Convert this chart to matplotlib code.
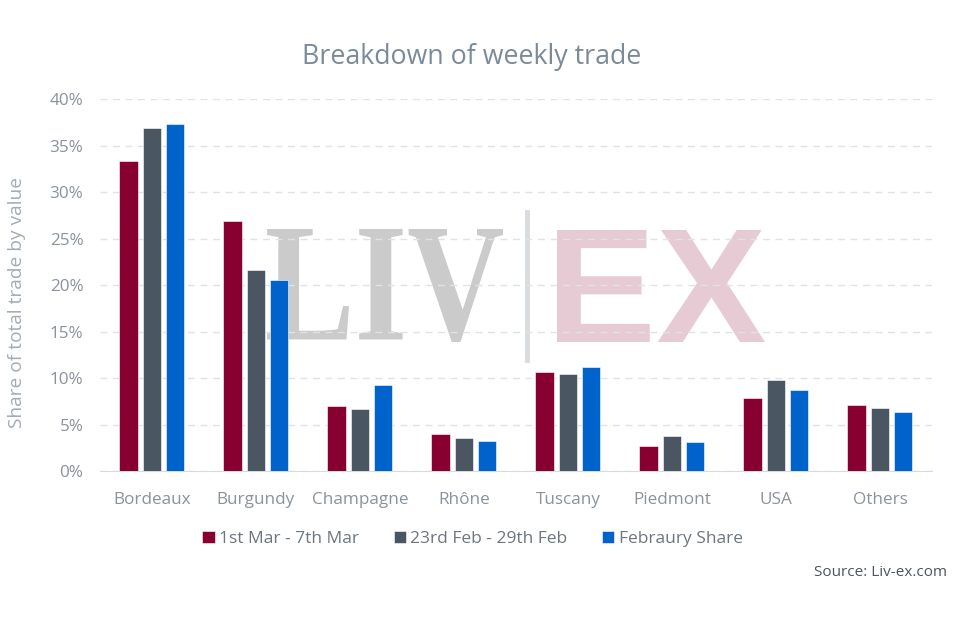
import matplotlib.pyplot as plt
import numpy as np
from matplotlib.ticker import FuncFormatter
from matplotlib.textpath import TextPath
from matplotlib.patches import PathPatch
from matplotlib.font_manager import FontProperties
import matplotlib.transforms as mtransforms

regions = ['Bordeaux', 'Burgundy', 'Champagne', 'Rhône', 'Tuscany', 'Piedmont', 'USA', 'Others']
week_mar = [33.3, 26.9, 6.95, 4.0, 10.7, 2.7, 7.85, 7.05]
week_feb = [36.85, 21.65, 6.7, 3.5, 10.45, 3.75, 9.8, 6.8]
feb_share = [37.3, 20.5, 9.2, 3.2, 11.2, 3.1, 8.75, 6.4]
series_names = ['1st Mar - 7th Mar', '23rd Feb - 29th Feb', 'Febraury Share']
colors = ['#870030', '#4a5661', '#0063cc']

W, H = 967, 640
plt.rcParams['font.family'] = ['Open Sans', 'DejaVu Sans']

fig = plt.figure(figsize=(W / 100, H / 100), dpi=100)
ax = fig.add_axes([0.1034, 0.264, 0.8604, 0.5813])


def stamp(text, fp, box, color):
    # fit the text outline into a pixel box (left, top, right, bottom)
    x0, y0, x1, y1 = box
    path = TextPath((0, 0), text, size=100, prop=fp)
    ext = path.get_extents()
    tr = (mtransforms.Affine2D()
          .translate(-ext.x0, -ext.y0)
          .scale((x1 - x0) / ext.width, (y1 - y0) / ext.height)
          .translate(x0, H - y1)
          .scale(1.0 / W, 1.0 / H)) + fig.transFigure
    p = PathPatch(path, transform=tr, facecolor=color, lw=0, zorder=1, clip_on=False)
    ax.add_artist(p)


stamp('LIV', FontProperties(family='Liberation Serif', weight='bold'), (267, 229, 503, 342), '#cbcbcb')
stamp('EX', FontProperties(family='Liberation Sans', weight='bold'), (557, 230, 765, 342), '#e6cad4')
ax.add_artist(plt.Line2D([527 / W, 527 / W], [1 - 360 / H, 1 - 212 / H], transform=fig.transFigure,
                         color='#d9dcde', lw=3.5, zorder=1, clip_on=False))

x = np.arange(len(regions))
w = 0.175
step = 0.225
for i, (vals, name) in enumerate(zip([week_mar, week_feb, feb_share], series_names)):
    ax.bar(x + (i - 1) * step, vals, w, color=colors[i], label=name, zorder=3,
           edgecolor='white', linewidth=0.4)

ax.set_xlim(-0.5, 7.5)
ax.set_ylim(0, 40)
ax.set_yticks(range(0, 41, 5))
ax.yaxis.set_major_formatter(FuncFormatter(lambda v, p: '%d%%' % v))
ax.set_xticks(x)
ax.set_xticklabels(regions)
ax.tick_params(axis='both', length=0, colors='#8a929b', labelsize=12.3)
ax.tick_params(axis='y', pad=12)
ax.tick_params(axis='x', pad=15)
ax.grid(axis='y', color='#dfe3e7', linestyle=(0, (5, 4)), linewidth=1)
for s in ['top', 'right', 'left']:
    ax.spines[s].set_visible(False)
ax.spines['bottom'].set_color('#d5dbe1')
ax.patch.set_alpha(0)

fig.text(472 / W, 1 - 57 / H, 'Breakdown of weekly trade', ha='center', va='center',
         fontsize=19.3, color='#7b8a99')
fig.text(17.5 / W, 1 - 302 / H, 'Share of total trade by value', rotation=90,
         ha='center', va='center', fontsize=13.8, color='#a3abb4')

fig.legend(loc='center', bbox_to_anchor=(472.5 / W, 1 - 539 / H), ncol=3, frameon=False,
           fontsize=12.5, handlelength=0.7, handleheight=0.7, handletextpad=0.25,
           columnspacing=2.0, labelcolor='#6d7680')
fig.text(947 / W, 1 - 573 / H, 'Source: Liv-ex.com', ha='right', va='center',
         fontsize=11, color='#4d5560')

fig.savefig('out.png', dpi=100)
